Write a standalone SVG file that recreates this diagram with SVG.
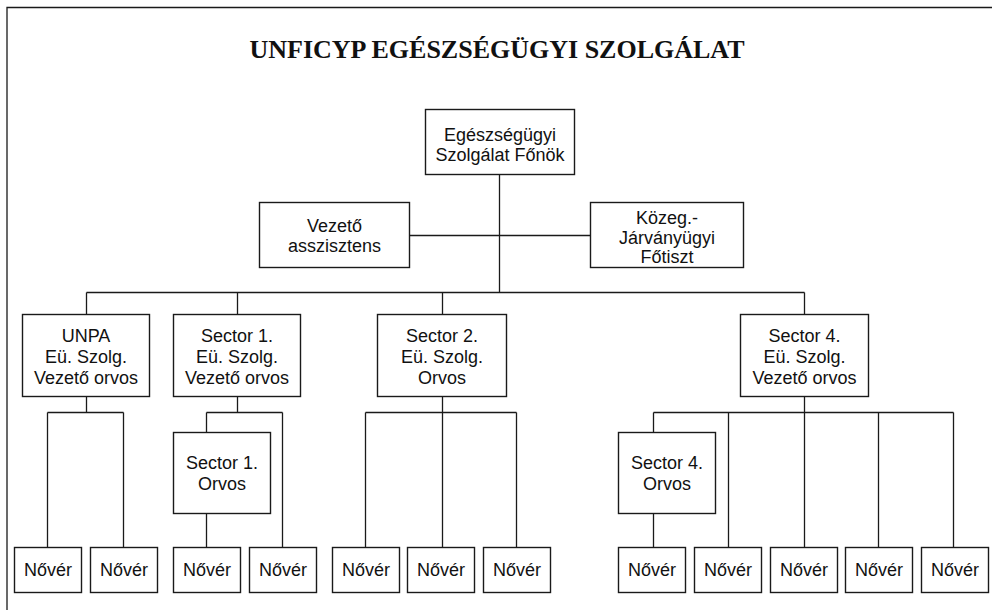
<svg xmlns="http://www.w3.org/2000/svg" width="992" height="610" viewBox="0 0 992 610">
<style>
.box{fill:#fff;stroke:#1a1a1a;stroke-width:1.4}
.ln{fill:none;stroke:#1a1a1a;stroke-width:1.3}
.t{font-family:"Liberation Sans",Arial,sans-serif;font-size:18px;fill:#111;text-anchor:middle}
.title{font-family:"Liberation Serif","Times New Roman",serif;font-size:26px;font-weight:bold;fill:#111;text-anchor:middle}
</style>
<rect width="992" height="610" fill="#fff"/>
<path class="ln" d="M7 610V7.5H992" stroke-width="1.6"/>
<text class="title" x="497" y="58">UNFICYP EGÉSZSÉGÜGYI SZOLGÁLAT</text>
<g id="connectors">
<path class="ln" d="M499.5 175V292.5M409 235.5H590M86.5 292.5H804.5M86.5 292.5V314M237.5 292.5V314M442.5 292.5V314M804.5 292.5V314"/>
<path class="ln" d="M86.5 397V412.5M47.5 412.5H123.5M47.5 412.5V547M123.5 412.5V547"/>
<path class="ln" d="M237.5 397V412.5M206.5 412.5H282.5M206.5 412.5V432M282.5 412.5V547M206.5 514V547"/>
<path class="ln" d="M442.5 397V547M365.5 412.5H516.5M365.5 412.5V547M516.5 412.5V547"/>
<path class="ln" d="M804.5 397V547M653.5 412.5H953.5M653.5 412.5V432M653.5 514V547M728.5 412.5V547M878.5 412.5V547M953.5 412.5V547"/>
</g>
<g id="chief"><rect class="box" x="425.5" y="109.5" width="149" height="65"/><text class="t" x="500" y="141">Egészségügyi</text><text class="t" x="500" y="160.5">Szolgálat Főnök</text></g>
<g id="assistant"><rect class="box" x="259.5" y="202.5" width="150" height="65"/><text class="t" x="334.5" y="232">Vezető</text><text class="t" x="334.5" y="251.5">asszisztens</text></g>
<g id="epidem"><rect class="box" x="590.5" y="202.5" width="153" height="65"/><text class="t" x="667" y="224">Közeg.-</text><text class="t" x="667" y="243.5">Járványügyi</text><text class="t" x="667" y="263">Főtiszt</text></g>
<g id="unpa"><rect class="box" x="22.5" y="314.5" width="127" height="82"/><text class="t" x="86" y="341.5">UNPA</text><text class="t" x="86" y="362.5">Eü. Szolg.</text><text class="t" x="86" y="383.5">Vezető orvos</text></g>
<g id="sector1"><rect class="box" x="173.5" y="314.5" width="127" height="82"/><text class="t" x="237" y="341.5">Sector 1.</text><text class="t" x="237" y="362.5">Eü. Szolg.</text><text class="t" x="237" y="383.5">Vezető orvos</text></g>
<g id="sector2"><rect class="box" x="377.5" y="314.5" width="129" height="82"/><text class="t" x="442" y="341.5">Sector 2.</text><text class="t" x="442" y="362.5">Eü. Szolg.</text><text class="t" x="442" y="383.5">Orvos</text></g>
<g id="sector4"><rect class="box" x="740.5" y="314.5" width="128" height="82"/><text class="t" x="804.5" y="341.5">Sector 4.</text><text class="t" x="804.5" y="362.5">Eü. Szolg.</text><text class="t" x="804.5" y="383.5">Vezető orvos</text></g>
<g id="sector1-orvos"><rect class="box" x="173.5" y="432.5" width="97" height="81"/><text class="t" x="222" y="469">Sector 1.</text><text class="t" x="222" y="490">Orvos</text></g>
<g id="sector4-orvos"><rect class="box" x="618.5" y="432.5" width="97" height="81"/><text class="t" x="667" y="469">Sector 4.</text><text class="t" x="667" y="490">Orvos</text></g>
<g id="n1"><rect class="box" x="14.5" y="547.5" width="67" height="45"/><text class="t" x="48" y="576">Nővér</text></g>
<g id="n2"><rect class="box" x="90.5" y="547.5" width="67" height="45"/><text class="t" x="124" y="576">Nővér</text></g>
<g id="n3"><rect class="box" x="173.5" y="547.5" width="67" height="45"/><text class="t" x="207" y="576">Nővér</text></g>
<g id="n4"><rect class="box" x="249.5" y="547.5" width="67" height="45"/><text class="t" x="283" y="576">Nővér</text></g>
<g id="n5"><rect class="box" x="332.5" y="547.5" width="67" height="45"/><text class="t" x="366" y="576">Nővér</text></g>
<g id="n6"><rect class="box" x="407.5" y="547.5" width="67" height="45"/><text class="t" x="441" y="576">Nővér</text></g>
<g id="n7"><rect class="box" x="483.5" y="547.5" width="67" height="45"/><text class="t" x="517" y="576">Nővér</text></g>
<g id="n8"><rect class="box" x="618.5" y="547.5" width="67" height="45"/><text class="t" x="652" y="576">Nővér</text></g>
<g id="n9"><rect class="box" x="694.5" y="547.5" width="67" height="45"/><text class="t" x="728" y="576">Nővér</text></g>
<g id="n10"><rect class="box" x="770.5" y="547.5" width="67" height="45"/><text class="t" x="804" y="576">Nővér</text></g>
<g id="n11"><rect class="box" x="845.5" y="547.5" width="67" height="45"/><text class="t" x="879" y="576">Nővér</text></g>
<g id="n12"><rect class="box" x="921.5" y="547.5" width="67" height="45"/><text class="t" x="955" y="576">Nővér</text></g>
</svg>
